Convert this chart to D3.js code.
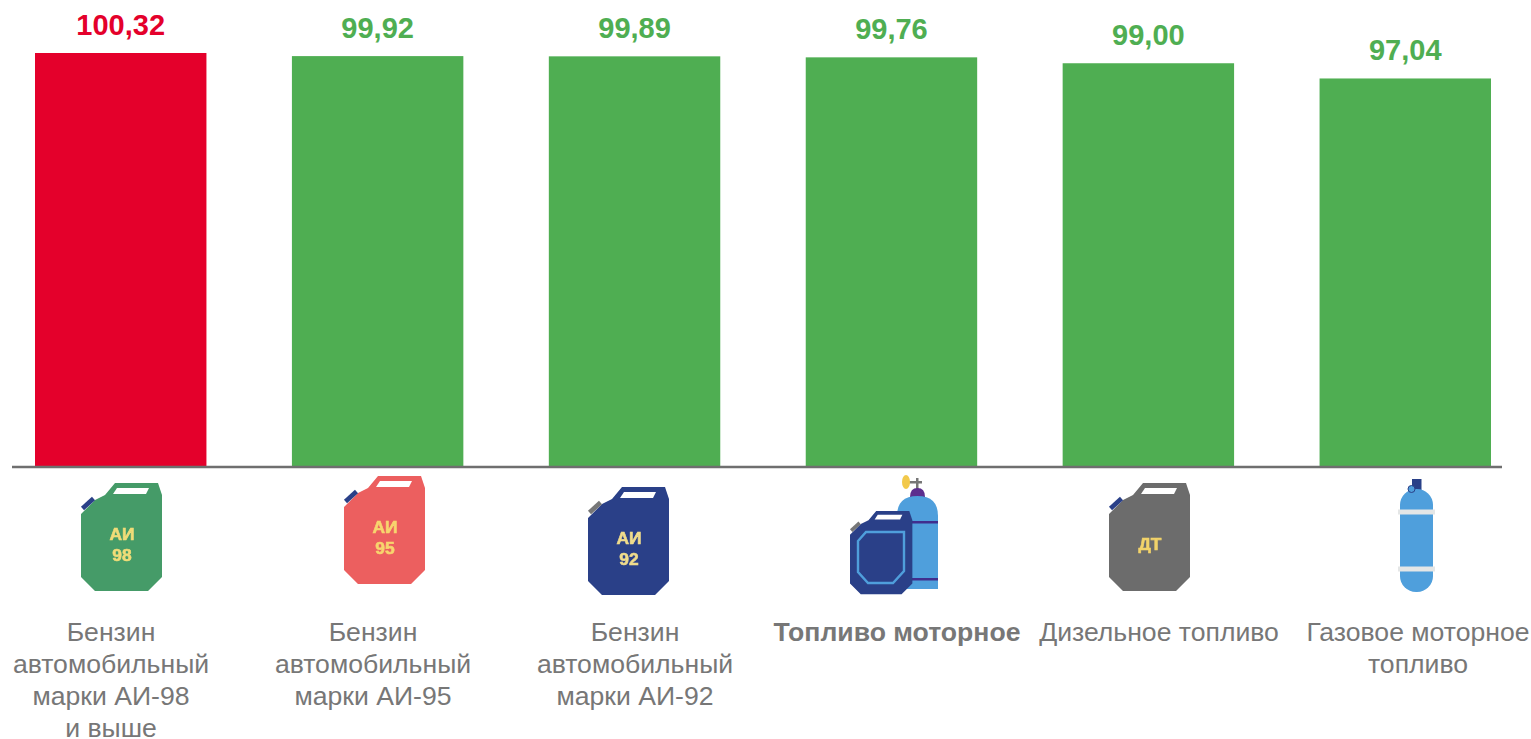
<!DOCTYPE html>
<html>
<head>
<meta charset="utf-8">
<script src="https://cdn.jsdelivr.net/npm/d3@7"></script>
<style>
  html, body { margin: 0; padding: 0; background: #fff; overflow: hidden; }
  svg { display: block; font-family: "Liberation Sans", Arial, sans-serif; }
</style>
</head>
<body>
<div id="chart"></div>
<script>
const categories = ["АИ-98", "АИ-95", "АИ-92", "Топливо", "ДТ", "Газ"]
const values = [100.32, 99.92, 99.89, 99.76, 99.00, 97.04]
const valueLabels = ["100,32", "99,92", "99,89", "99,76", "99,00", "97,04"]
const barColors = ["#e4002b", "#4fae52", "#4fae52", "#4fae52", "#4fae52", "#4fae52"]
const labelLines = [
    ["Бензин", "автомобильный", "марки АИ-98", "и выше"],
    ["Бензин", "автомобильный", "марки АИ-95"],
    ["Бензин", "автомобильный", "марки АИ-92"],
    ["Топливо моторное"],
    ["Дизельное топливо"],
    ["Газовое моторное", "топливо"]
]
const boldLabels = [false, false, false, true, false, false]

const width = 1531
const height = 739
const baseline = 467

const svg = d3.select("#chart").append("svg")
    .attr("width", width)
    .attr("height", height)

svg.append("defs").append("filter")
    .attr("id", "soft")
    .append("feGaussianBlur")
    .attr("stdDeviation", 0.5)

// the bars do not start at zero in the original, baseline is about 47
const y = d3.scaleLinear().domain([47, 100.32]).range([baseline, 53])
const x = d3.scaleBand().domain(categories).range([35, 1491]).paddingInner(0.3327).paddingOuter(0)
// captions sit on their own wider spacing, not under the bar centres
const xLabel = d3.scalePoint().domain(categories).range([111, 1421])

svg.selectAll("rect.bar")
    .data(categories)
    .join("rect")
    .attr("class", "bar")
    .attr("x", d => x(d))
    .attr("width", x.bandwidth())
    .attr("y", (d, i) => y(values[i]))
    .attr("height", (d, i) => baseline - y(values[i]))
    .attr("fill", (d, i) => barColors[i])

svg.selectAll("text.value")
    .data(categories)
    .join("text")
    .attr("class", "value")
    .attr("x", d => x(d) + x.bandwidth() / 2)
    .attr("y", (d, i) => y(values[i]) - 18)
    .attr("text-anchor", "middle")
    .attr("font-size", 29)
    .attr("font-weight", "bold")
    .attr("fill", (d, i) => barColors[i])
    .text((d, i) => valueLabels[i])

svg.append("line")
    .attr("x1", 12)
    .attr("x2", 1502)
    .attr("y1", baseline)
    .attr("y2", baseline)
    .attr("stroke", "#6f6f6f")
    .attr("stroke-width", 2.6)

// captions, the last one is pushed in from the page edge
const captions = svg.selectAll("g.caption")
    .data(categories)
    .join("g")
    .attr("class", "caption")
    .attr("transform", d => `translate(${Math.min(xLabel(d), 1418)},0)`)

captions.each(function (d, i) {
    d3.select(this).selectAll("text")
        .data(labelLines[i])
        .join("text")
        .attr("y", (t, k) => 641 + k * 32)
        .attr("text-anchor", "middle")
        .attr("font-size", 26.6)
        .attr("font-weight", boldLabels[i] ? "bold" : "normal")
        .attr("fill", "#777")
        .text(t => t)
})

// icons, drawn in local coordinates of an 81x108 canister
const canPath = "M0,31 L14,17 L24,12 L34,0 L77,0 L81,12 L81,94 L67,108 L14,108 L0,94 Z"
const handlePath = "M36,5 L68,5 L65,11 L32,11 Z"

function drawCan(parent, px, py, scale, body, capColor, lines, textColor) {
    const g = parent.append("g")
        .attr("transform", `translate(${px},${py}) scale(${scale})`)
    g.append("path").attr("d", canPath).attr("fill", body)
    g.append("line")
        .attr("x1", 1.5).attr("y1", 25.5).attr("x2", 12.5).attr("y2", 15.5)
        .attr("stroke", capColor).attr("stroke-width", 4.6)
    g.append("path").attr("d", handlePath).attr("fill", "#fff")
    lines.forEach((t, k) => {
        g.append("text")
            .attr("x", 41)
            .attr("y", (lines.length === 1 ? 67 : 57) + k * 20.5)
            .attr("text-anchor", "middle")
            .attr("font-size", 17.4)
            .attr("font-weight", "bold")
            .attr("fill", textColor)
            .attr("stroke", textColor)
            .attr("stroke-width", 0.6)
            .text(t)
    })
    return g
}

const icons = svg.append("g").attr("class", "icons").attr("filter", "url(#soft)")

drawCan(icons, 81, 483, 1, "#459b68", "#2a4088", ["АИ", "98"], "#f0dc78")
drawCan(icons, 344, 476, 1, "#ec5f5f", "#2a4088", ["АИ", "95"], "#f7d56e")
drawCan(icons, 588, 487, 1, "#2a4088", "#777", ["АИ", "92"], "#f0dc8c")
drawCan(icons, 1109, 483, 1, "#6c6c6c", "#2a4088", ["ДТ"], "#f2d36a")

// mixed icon: gas bottle behind a canister
const gas = icons.append("g")
gas.append("rect").attr("x", 916).attr("y", 478).attr("width", 2.5).attr("height", 12).attr("fill", "#777")
gas.append("rect").attr("x", 908).attr("y", 481).attr("width", 14).attr("height", 2.5).attr("fill", "#777")
gas.append("ellipse").attr("cx", 906).attr("cy", 482).attr("rx", 4).attr("ry", 7).attr("fill", "#f2c94c")
gas.append("path").attr("d", "M910,497 Q910,488 917.5,488 Q925,488 925,497 Z").attr("fill", "#5b2d8e")
gas.append("path").attr("d", "M897,589 L897,516 Q897,496 917.5,496 Q938,496 938,516 L938,589 Z").attr("fill", "#4f9fdc")
gas.append("rect").attr("x", 897).attr("y", 521).attr("width", 41).attr("height", 2.5).attr("fill", "#3f2f8e")
gas.append("rect").attr("x", 897).attr("y", 578).attr("width", 41).attr("height", 2.5).attr("fill", "#3f2f8e")
drawCan(gas, 850, 511, 0.77, "#2a4088", "#777", [], "#fff")
gas.append("path")
    .attr("d", "M858,541 L866,532 L904,532 L904,571 L893,583 L868,583 L858,572 Z")
    .attr("fill", "none")
    .attr("stroke", "#4f9fdc")
    .attr("stroke-width", 2.4)

// bottle icon
const bottle = icons.append("g")
bottle.append("rect").attr("x", 1412).attr("y", 479).attr("width", 9.5).attr("height", 12).attr("fill", "#2a4088")
bottle.append("rect").attr("x", 1400).attr("y", 489).attr("width", 33).attr("height", 103).attr("rx", 16).attr("fill", "#4f9fdc")
bottle.append("circle").attr("cx", 1411.5).attr("cy", 489).attr("r", 3.5).attr("fill", "#4f9fdc").attr("stroke", "#2a4088").attr("stroke-width", 1)
bottle.append("rect").attr("x", 1398).attr("y", 509.5).attr("width", 37).attr("height", 5).attr("fill", "#e4e6e6")
bottle.append("rect").attr("x", 1398).attr("y", 566.5).attr("width", 37).attr("height", 5).attr("fill", "#e4e6e6")
</script>
</body>
</html>
